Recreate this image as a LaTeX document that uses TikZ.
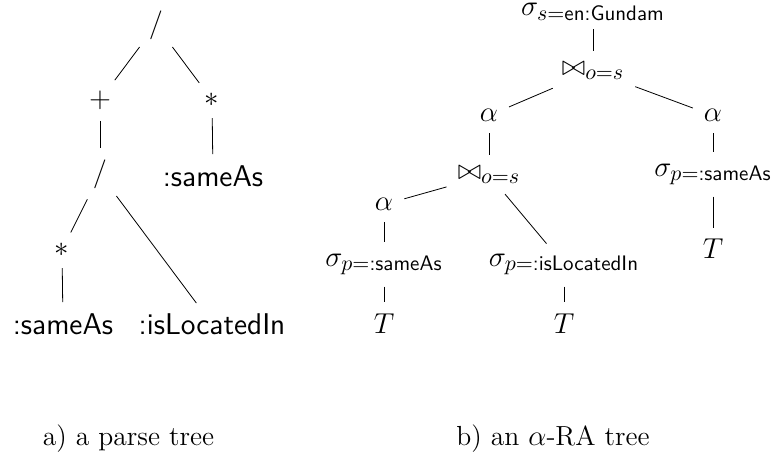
\documentclass[tikz,border=0pt]{standalone}
\usepackage{amsmath,amssymb}
\usepackage{tikz}

\begin{document}
\begin{tikzpicture}[x=0.5pt,y=-0.5pt,
  every node/.style={font=\fontsize{15}{18}\selectfont,inner sep=3pt},
  e/.style={shorten <=2.5pt,shorten >=2.5pt},
  lbl/.style={font=\fontsize{13.8}{16}\selectfont}]
 \useasboundingbox (0,0) rectangle (776,455);
 % a) parse tree
 \node (p0) at (156,25) {$/$};
 \node (p1) at (100,100) {$+$};
 \node (p2) at (212,100) {$*$};
 \node (p3) at (213,176) {\textsf{:sameAs}};
 \node (p4) at (100,174) {$/$};
 \node (p5) at (62,250) {$*$};
 \node (p6) at (63,324) {\textsf{:sameAs}};
 \node (p7) at (212,324) {\textsf{:isLocatedIn}};
 \draw[e] (p0) -- (p1); \draw[e] (p0) -- (p2); \draw[e] (p2) -- (p3);
 \draw[e] (p1) -- (p4); \draw[e] (p4) -- (p5); \draw[e] (p4) -- (p7);
 \draw[e] (p5) -- (p6);
 % b) alpha-RA tree
 \node[inner ysep=1.5pt] (s0) at (593,12) {$\sigma_{s=\textsf{en:Gundam}}$};
 \node (j1) at (593,71) {$\bowtie_{o=s}$};
 \node (a1) at (489,115.5) {$\alpha$};
 \node (a2) at (713,115.5) {$\alpha$};
 \node (j2) at (489,175) {$\bowtie_{o=s}$};
 \node (s3) at (713,174.5) {$\sigma_{p=\textsf{:sameAs}}$};
 \node (t3) at (713,249) {$T$};
 \node (a3) at (384,204.5) {$\alpha$};
 \node (s1) at (384,264.5) {$\sigma_{p=\textsf{:sameAs}}$};
 \node (s2) at (564,264.5) {$\sigma_{p=\textsf{:isLocatedIn}}$};
 \node (t1) at (384,323.5) {$T$};
 \node (t2) at (564,323.5) {$T$};
 \draw[e] (s0) -- (j1); \draw[e] (j1) -- (a1); \draw[e] (j1) -- (a2);
 \draw[e] (a1) -- (j2); \draw[e] (a2) -- (s3); \draw[e] (s3) -- (t3);
 \draw[e] (j2) -- (a3); \draw[e] (j2) -- (s2); \draw[e] (a3) -- (s1);
 \draw[e] (s1) -- (t1); \draw[e] (s2) -- (t2);
 % captions
 \node[lbl] (ca) at (128.5,438.5) {a) a parse tree};
 \node[lbl] (cb) at (553,438.5) {b) an $\alpha$-RA tree};
\end{tikzpicture}
\end{document}
